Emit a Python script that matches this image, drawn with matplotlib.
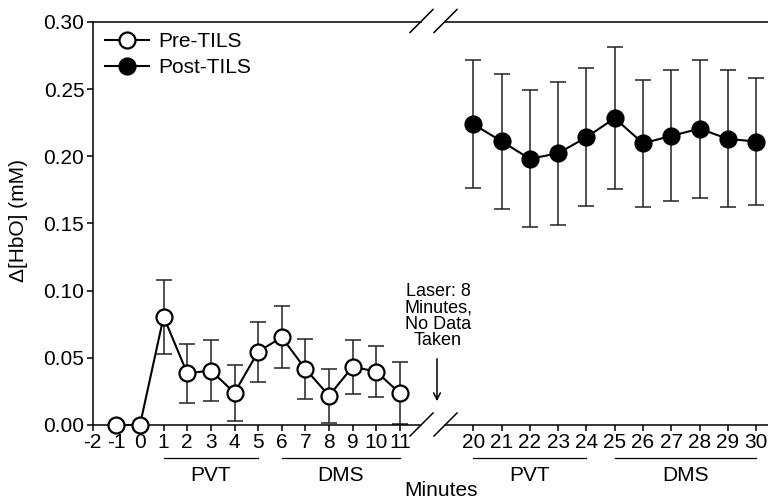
import numpy as np
import matplotlib
matplotlib.use('Agg')
import matplotlib.pyplot as plt
from matplotlib.lines import Line2D

plt.rcParams['font.family'] = ['Liberation Sans', 'DejaVu Sans']
plt.rcParams['font.size'] = 15
plt.rcParams['axes.unicode_minus'] = False

# data
preMin = [-1, 0, 1, 2, 3, 4, 5, 6, 7, 8, 9, 10, 11]
preVal = [0.0, 0.0, 0.0806, 0.0385, 0.0405, 0.024, 0.0546, 0.0653, 0.0417, 0.0218, 0.0434, 0.0397, 0.0236]
preErr = [0.0, 0.0, 0.0275, 0.022, 0.0225, 0.021, 0.0223, 0.023, 0.0223, 0.020, 0.020, 0.019, 0.023]

postMin = [20, 21, 22, 23, 24, 25, 26, 27, 28, 29, 30]
postVal = [0.2239, 0.2112, 0.1981, 0.2023, 0.2142, 0.2284, 0.2097, 0.2152, 0.2206, 0.213, 0.211]
postErr = [0.0477, 0.0503, 0.051, 0.0534, 0.0512, 0.0527, 0.0474, 0.0488, 0.0514, 0.0509, 0.0474]

leftTicks = list(range(-2, 12))
rightTicks = list(range(20, 31))
yTicks = [0.0, 0.05, 0.10, 0.15, 0.20, 0.25, 0.30]

# task groups under the x axis: (label, first minute, last minute)
leftGroups = [('PVT', 1, 5), ('DMS', 6, 11)]
rightGroups = [('PVT', 20, 24), ('DMS', 25, 30)]

W, H = 768, 501
fig = plt.figure(figsize=(W/100, H/100), dpi=100)
axL = fig.add_axes([92.7/W, 76/H, (421-92.7)/W, 403/H])
axR = fig.add_axes([445/W, 76/H, (768-445)/W, 403/H])

lw = 1.5
mk = dict(marker='o', markersize=11.5, markeredgewidth=1.6, markeredgecolor='k', color='k', linewidth=lw)
errKw = dict(ecolor='#222222', elinewidth=1.1, capsize=6, capthick=1.1, zorder=1)

axL.errorbar(preMin, preVal, yerr=preErr, fmt='none', **errKw)
lpre, = axL.plot(preMin, preVal, markerfacecolor='white', zorder=3, clip_on=False, **mk)
axR.errorbar(postMin, postVal, yerr=postErr, fmt='none', **errKw)
lpost, = axR.plot(postMin, postVal, markerfacecolor='black', zorder=3, clip_on=False, **mk)

for ax in (axL, axR):
    ax.set_ylim(0, 0.30)
    ax.spines['right'].set_visible(False)
    for s in ('top', 'bottom', 'left'):
        ax.spines[s].set_linewidth(1.1)
    ax.tick_params(direction='out', length=4, width=1.1, pad=2)

axL.set_xlim(-2, 11.89)
axL.set_xticks(leftTicks)
axL.set_yticks(yTicks)
axL.set_yticklabels(['%.2f' % v for v in yTicks])

axR.set_xlim(19.0, 30.42)
axR.set_xticks(rightTicks)
axR.spines['left'].set_visible(False)
axR.set_yticks([])

# group bars and labels
for ax, groups in ((axL, leftGroups), (axR, rightGroups)):
    tr = ax.get_xaxis_transform()
    for name, a, b in groups:
        ax.plot([a, b], [-0.082, -0.082], color='k', linewidth=0.9, transform=tr, clip_on=False)
        ax.text((a+b)/2.0, -0.125, name, transform=tr, ha='center', va='center')

# axis break marks
for cx in (421.5, 445.5):
    for cy in (21, 424.5):
        fig.add_artist(Line2D([(cx-11.5)/W, (cx+11.5)/W], [1-(cy+11.5)/H, 1-(cy-11.5)/H],
                              color='k', linewidth=1.1, transform=fig.transFigure))

fig.text(19/W, 1-221/H, u'\u0394[HbO] (mM)', rotation=90, ha='center', va='center')
fig.text(441/W, 1-490/H, 'Minutes', ha='center', va='center')

fig.text(438/W, 1-349/H, 'Laser: 8\nMinutes,\nNo Data\nTaken', ha='center', va='bottom',
         linespacing=0.95, fontsize=13)
fig.add_artist(matplotlib.patches.FancyArrowPatch((437/W, 1-356/H), (437/W, 1-404/H),
               transform=fig.transFigure, arrowstyle='->', mutation_scale=12, linewidth=1.1, color='k'))

axL.legend([lpre, lpost], ['Pre-TILS', 'Post-TILS'], loc='upper left', bbox_to_anchor=(0.0375, 0.975),
           frameon=False, borderpad=0, borderaxespad=0, handlelength=2.1, handletextpad=0.45,
           labelspacing=0.33, numpoints=1)

fig.savefig('out.png', dpi=100)
